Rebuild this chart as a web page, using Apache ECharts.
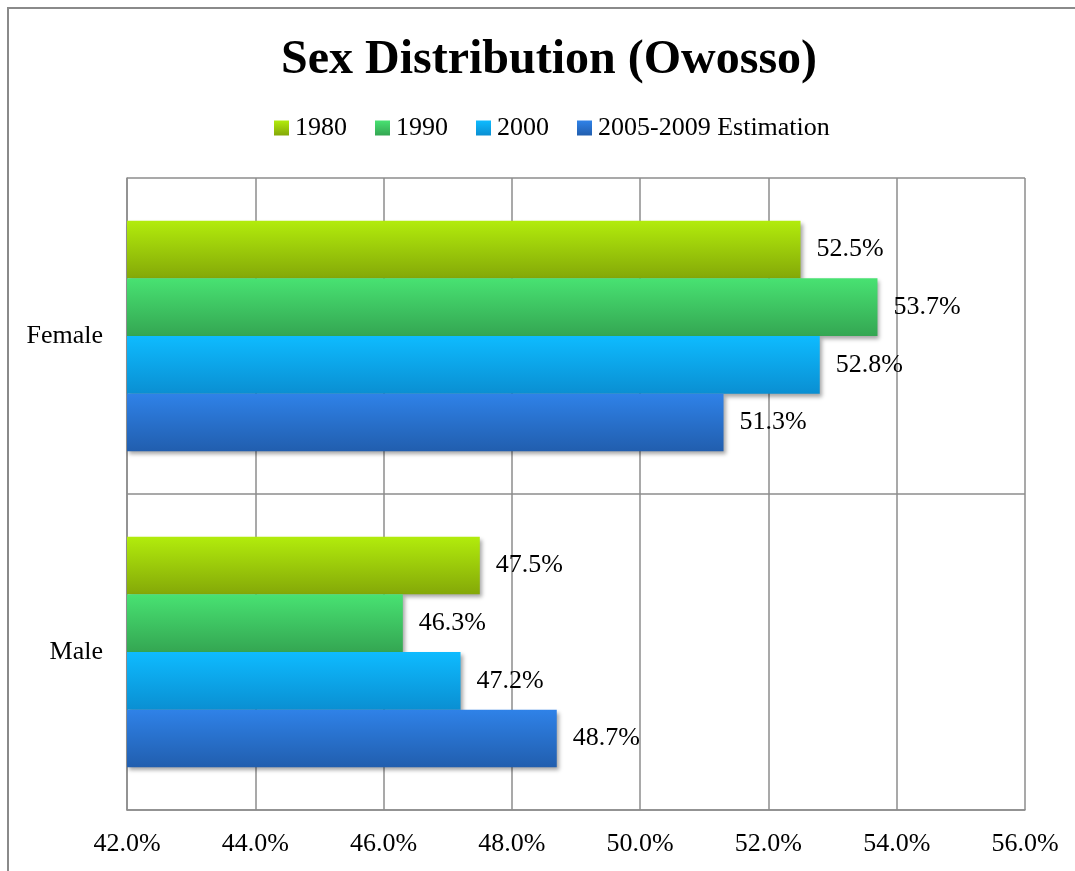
<!DOCTYPE html>
<html>
<head>
<meta charset="utf-8">
<script src="https://cdn.jsdelivr.net/npm/echarts@6/dist/echarts.min.js"></script>
<style>
html,body{margin:0;padding:0;background:#fff;}
#chart{width:1075px;height:871px;}
</style>
</head>
<body>
<div id="chart"></div>
<script>
var categories = ['Female', 'Male'];
var seriesNames = ['1980', '1990', '2000', '2005-2009 Estimation'];
var values1980 = [52.5, 47.5];
var values1990 = [53.7, 46.3];
var values2000 = [52.8, 47.2];
var values2005 = [51.3, 48.7];
var xTicks = [42, 44, 46, 48, 50, 52, 54, 56];

var seriesValues = [values1980, values1990, values2000, values2005];
var gradients = [
  ['#b2ec0c', '#84a808'],
  ['#48e272', '#34a652'],
  ['#0ebbff', '#0a8fd2'],
  ['#2f82e8', '#215eae']
];
var font = '"Liberation Serif", "Times New Roman", serif';

var chart = echarts.init(document.getElementById('chart'));
var series = seriesNames.map(function (name, i) {
  return {
    name: name,
    type: 'bar',
    data: seriesValues[i],
    barGap: '0%',
    barCategoryGap: '27%',
    itemStyle: {
      color: new echarts.graphic.LinearGradient(0, 0, 0, 1, [
        {offset: 0, color: gradients[i][0]},
        {offset: 1, color: gradients[i][1]}
      ]),
      shadowColor: 'rgba(0,0,0,0.35)',
      shadowBlur: 4,
      shadowOffsetX: 2,
      shadowOffsetY: 3
    },
    label: {
      show: true,
      position: 'right',
      distance: 16,
      color: '#000',
      fontFamily: font,
      fontSize: 26,
      formatter: function (p) { return p.value.toFixed(1) + '%'; }
    }
  };
});

chart.setOption({
  animation: false,
  backgroundColor: '#fff',
  graphic: [{
    type: 'rect',
    shape: {x: 8, y: 8, width: 1200, height: 1000},
    style: {fill: 'none', stroke: '#8a8a8a', lineWidth: 2},
    z: 100
  }],
  title: {
    text: 'Sex Distribution (Owosso)',
    left: 276,
    top: 32,
    textStyle: {fontFamily: font, fontSize: 48, fontWeight: 'bold', color: '#000'}
  },
  legend: {
    top: 110,
    left: 269,
    itemWidth: 15,
    itemHeight: 15,
    itemGap: 28,
    icon: 'rect',
    textStyle: {fontFamily: font, fontSize: 26, color: '#000', padding: [0, 0, 0, 1]},
    data: seriesNames
  },
  grid: {left: 127, right: 50, top: 178, bottom: 61, containLabel: false},
  xAxis: {
    type: 'value',
    min: 42,
    max: 56,
    interval: 2,
    axisLine: {show: true, lineStyle: {color: '#8c8c8c', width: 1.5}},
    axisTick: {show: false},
    splitLine: {show: true, lineStyle: {color: '#8c8c8c', width: 1.5}},
    axisLabel: {
      margin: 21,
      fontFamily: font,
      fontSize: 26,
      color: '#000',
      formatter: function (v) { return v.toFixed(1) + '%'; }
    }
  },
  yAxis: {
    type: 'category',
    data: categories,
    inverse: true,
    axisLine: {show: true, lineStyle: {color: '#8c8c8c', width: 1.5}},
    axisTick: {show: false},
    splitLine: {show: true, lineStyle: {color: '#8c8c8c', width: 1.5}},
    axisLabel: {margin: 24, fontFamily: font, fontSize: 26, color: '#000'}
  },
  series: series
});
</script>
</body>
</html>
